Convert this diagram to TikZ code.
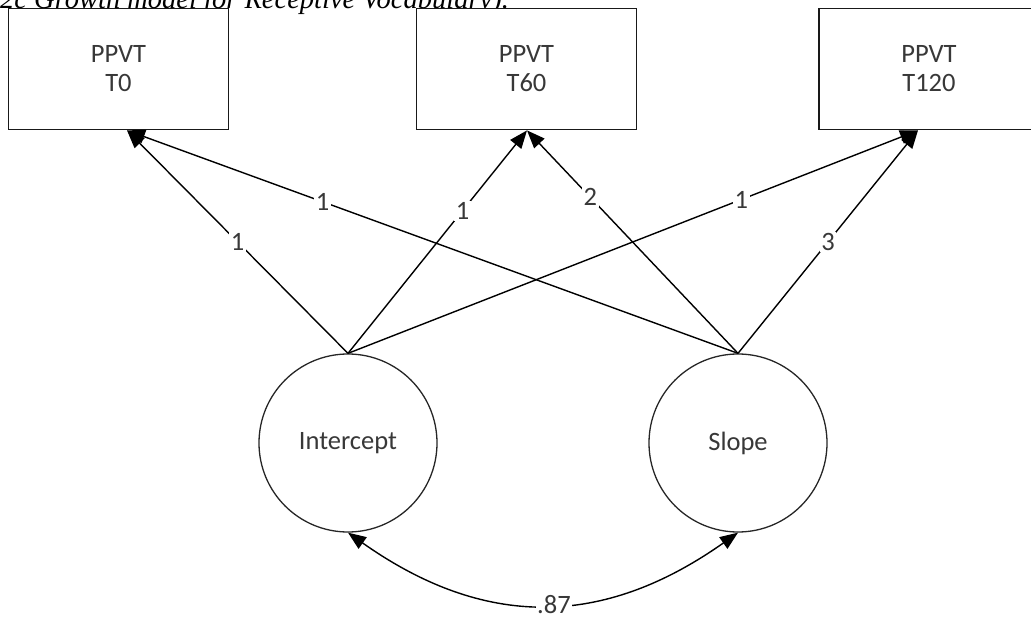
\documentclass[tikz,border=0pt]{standalone}
\usepackage{fontspec}
\setmainfont{Carlito}
\newfontfamily\captionserif{Liberation Serif}
\usetikzlibrary{arrows.meta,calc}
\definecolor{labelgray}{HTML}{383838}
\tikzset{
  observed/.style={draw=black!90, line width=1.8pt, fill=white, minimum width=220pt, minimum height=121pt,
    align=center, inner sep=0pt, text=labelgray, font=\fontsize{26.5}{29}\selectfont},
  latent/.style={draw=black!85, line width=1.3pt, circle, minimum size=178pt, inner sep=0pt,
    text=labelgray, font=\fontsize{26.5}{29}\selectfont},
  loading/.style={line width=1.4pt, -{Triangle[length=18pt,width=14pt]}},
  covar/.style={line width=1.4pt, {Triangle[length=18pt,width=14pt]}-{Triangle[length=18pt,width=14pt]}},
  coef/.style={fill=white, inner sep=1.5pt, text=labelgray, font=\fontsize{26.5}{26.5}\selectfont}
}
\begin{document}
\begin{tikzpicture}[x=1pt,y=-1pt]
\path[use as bounding box] (0,0) rectangle (1031,617);
\clip (0,0) rectangle (1031,617);
\fill[white] (0,0) rectangle (1031,617);

% caption line (upper part runs off the page)
\node[anchor=base west, inner sep=0pt, font=\captionserif\itshape\fontsize{28.5}{30}\selectfont] (caption) at (0,9)
  {2c Growth model for Receptive Vocabulary).};

% observed measures
\node[observed] (t0)   at (118.5,69) {PPVT\\T0};
\node[observed] (t60)  at (526.5,69) {PPVT\\T60};
\node[observed] (t120) at (929,69)   {PPVT\\T120};

% growth factors
\node[latent] (int)   at (348,443) {Intercept};
\node[latent] (slope) at (738,443) {Slope};

% arrow targets on the lower edge of each box
\coordinate (t0in)   at ($(t0.south)+(8.5,0)$);
\coordinate (t60in)  at ($(t60.south)+(0.5,0)$);
\coordinate (t120in) at ($(t120.south)+(-11,0)$);

% intercept loadings
\draw[loading] (int.north) -- node[coef, pos=0.5]  {1} (t0in);
\draw[loading] (int.north) -- node[coef, pos=0.64] {1} (t60in);
\draw[loading] (int.north) -- node[coef, pos=0.69] {1} (t120in);

% slope loadings
\draw[loading] (slope.north) -- node[coef, pos=0.68] {1} (t0in);
\draw[loading] (slope.north) -- node[coef, pos=0.7]  {2} (t60in);
\draw[loading] (slope.north) -- node[coef, pos=0.5]  {3} (t120in);

% factor covariance
\draw[covar] (int.south) .. controls ($(int.south)+(136,96)$) and ($(slope.south)+(-136,96)$) ..
  node[coef, xshift=11pt, inner ysep=0pt] {.87} (slope.south);
\end{tikzpicture}
\end{document}
